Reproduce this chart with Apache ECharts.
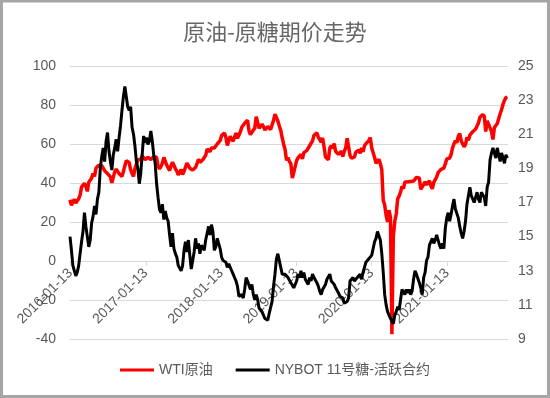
<!DOCTYPE html>
<html>
<head>
<meta charset="utf-8">
<script src="https://cdn.jsdelivr.net/npm/echarts@6/dist/echarts.min.js"></script>
<style>
  html, body { margin: 0; padding: 0; background: #fff; }
  #chart { width: 550px; height: 398px; }
</style>
</head>
<body>
<div id="chart"></div>
<script>
// weekly (Monday) readings, first week 2016-01-11
const startDate = Date.UTC(2016, 0, 11);

// WTI原油, left axis
const wti = [
  // 2016
  31.4, 28.5, 30.3,
  31.6, 29.7, 29.4, 31.9, 33.8,
  37.9, 37.2, 39.9, 38.3,
  35.7, 40.4, 39.8, 42.6,
  44.8, 43.4, 47.7, 48.1, 49.1,
  49.7, 48.9, 49.4, 46.3,
  46.6, 44.8, 45.2, 43.1,
  40.1, 43.0, 45.7, 47.1, 46.4,
  44.8, 44.9, 43.3, 45.9,
  48.8, 51.4, 50.5, 50.5, 46.9,
  44.9, 43.3, 47.5, 47.1,
  51.8, 52.8, 52.1, 53.9,
  // 2017
  53.7, 52.0, 52.4, 53.2, 52.6,
  52.0, 52.9, 53.4, 54.1,
  53.2, 48.4, 47.3, 48.4,
  50.2, 53.1, 52.6, 49.2,
  47.7, 46.4, 48.9, 50.7, 49.8,
  47.4, 46.1, 44.2, 43.4,
  46.9, 44.4, 46.0, 46.3, 50.2,
  49.4, 47.6, 47.4, 46.6,
  47.3, 48.1, 49.9, 52.2,
  50.6, 49.6, 51.9, 52.9, 54.2,
  57.4, 56.8, 56.1, 58.0,
  57.5, 58.0, 57.2, 60.0,
  // 2018
  60.4, 61.7, 64.3, 63.6, 65.6,
  63.4, 59.3, 61.7, 63.9,
  62.6, 61.4, 62.1, 65.6,
  63.0, 63.4, 66.2, 68.6, 68.6,
  70.7, 71.0, 72.2, 66.7,
  64.8, 66.1, 65.9, 68.1,
  74.0, 73.9, 68.1, 68.3, 70.1,
  69.0, 67.2, 66.4, 68.9,
  69.8, 67.5, 69.9, 72.1,
  75.3, 74.3, 71.8, 69.2, 67.0,
  63.1, 59.9, 57.2, 51.6,
  53.0, 51.0, 49.9, 42.5, 45.4,
  // 2019
  48.5, 51.5, 53.0, 52.0,
  54.6, 52.4, 55.6, 55.5,
  56.6, 56.8, 59.1, 59.9,
  61.6, 64.4, 63.4, 65.7, 63.5,
  62.3, 61.0, 63.1, 58.6,
  53.3, 53.3, 51.9, 58.0,
  59.1, 57.8, 60.2, 56.2, 56.9,
  54.7, 54.9, 56.3, 53.6,
  56.3, 57.9, 62.9, 58.6, 54.1,
  52.8, 53.6, 53.3, 55.8,
  56.5, 56.9, 55.2, 58.0,
  56.0, 59.0, 60.2, 60.5, 61.7,
  // 2020
  63.3, 58.1, 58.3, 53.1,
  50.1, 49.6, 52.1, 49.9,
  46.8, 31.1, 28.7, 23.4, 20.1,
  26.1, 22.4, -37.6, 12.8,
  20.4, 24.1, 31.8, 33.3,
  35.4, 38.2, 37.1, 40.5, 39.7,
  40.6, 40.1, 40.8, 41.6,
  41.0, 42.0, 42.9, 42.6, 42.6,
  36.8, 37.3, 39.3, 40.6,
  39.2, 39.4, 41.1, 38.6,
  37.0, 40.3, 41.3, 43.1, 45.3,
  45.8, 47.0, 47.7, 47.6,
  // 2021
  49.8, 52.3, 52.4, 52.8,
  54.6, 58.0, 60.1, 61.7,
  60.6, 64.0, 65.4, 61.6, 61.6,
  58.6, 59.7, 63.4, 61.9,
  64.5, 65.0, 66.3, 66.1, 67.7,
  69.2, 70.9, 73.7, 72.9,
  75.2, 74.1, 66.4, 71.9,
  71.3, 68.3, 66.5, 62.3, 68.5,
  69.3, 70.5, 70.3, 75.5,
  77.6, 80.5, 82.4, 83.8,
  84.1
];

// NYBOT 11号糖-活跃合约, right axis
const sugar = [
  // 2016
  15.0, 14.2, 13.3,
  13.0, 12.7, 12.9, 13.3, 14.0,
  14.7, 15.3, 16.4, 15.6,
  15.0, 14.4, 14.8, 15.8,
  16.2, 16.8, 16.3, 17.2, 17.6,
  19.0, 19.7, 20.2, 19.4,
  20.6, 21.1, 20.0, 19.4,
  18.9, 19.8, 20.2, 20.7, 20.0,
  20.8, 21.5, 22.4, 23.2,
  23.8, 23.2, 22.6, 22.4, 22.6,
  21.4, 21.0, 20.3, 19.4,
  19.0, 18.1, 18.7, 19.8,
  // 2017
  20.9, 20.5, 20.8, 20.4, 20.6,
  21.2, 20.6, 19.8, 19.3,
  18.1, 17.3, 16.6, 16.4,
  16.9, 16.0, 16.5, 16.1,
  15.9, 15.1, 14.4, 15.2, 14.3,
  14.0, 13.8, 13.3, 13.4,
  13.0, 13.3, 14.2, 14.7, 14.1,
  14.8, 13.9, 13.1, 13.6,
  14.1, 14.9, 14.3, 14.6,
  14.0, 14.5, 14.6, 14.2, 14.8,
  15.2, 15.6, 15.1, 15.7,
  15.3, 14.2, 14.4, 14.9,
  // 2018
  14.9, 14.3, 13.8, 13.6, 13.7,
  13.5, 13.2, 13.4, 13.3,
  13.0, 12.8, 12.9, 12.4,
  12.1, 11.5, 11.4, 11.6, 11.4,
  11.9, 12.6, 12.4, 12.3,
  11.9, 12.2, 11.6, 11.3,
  11.6, 11.3, 10.8, 10.9, 10.6,
  10.5, 10.2, 10.2, 10.1,
  10.5, 10.4, 11.2, 12.1,
  12.8, 13.7, 14.0, 13.6, 13.2,
  12.8, 12.9, 12.8, 12.9,
  12.6, 12.7, 12.3, 12.2, 12.0,
  // 2019
  12.1, 12.4, 12.8, 12.6,
  13.0, 12.6, 12.9, 12.5,
  12.4, 12.2, 12.6, 12.4,
  12.8, 12.6, 12.7, 12.3, 12.1,
  11.8, 11.6, 11.9, 11.8,
  12.2, 12.5, 12.4, 12.8,
  12.4, 12.5, 12.2, 12.0, 12.1,
  11.7, 11.5, 11.6, 11.4,
  11.1, 11.0, 11.2, 11.4, 12.4,
  12.5, 12.6, 12.4, 12.4,
  12.6, 12.5, 12.8, 12.5,
  12.9, 13.2, 13.5, 13.4, 13.7,
  // 2020
  13.6, 13.9, 14.3, 14.7,
  14.9, 15.3, 15.2, 14.8,
  14.0, 12.9, 11.6, 11.0, 10.6,
  10.4, 10.2, 10.1, 9.9,
  10.4, 10.6, 10.9, 10.7,
  11.3, 11.9, 11.8, 11.6, 11.9,
  11.7, 11.9, 11.6, 11.8,
  12.5, 13.0, 12.8, 12.9, 12.3,
  12.0, 11.6, 12.6, 12.9,
  13.6, 13.8, 14.5, 14.4,
  14.9, 14.6, 14.8, 15.1, 14.8,
  14.5, 14.3, 14.6, 14.3,
  // 2021
  15.5, 16.1, 16.4, 15.9,
  16.3, 16.8, 17.2, 16.6,
  16.5, 16.1, 15.6, 15.2, 14.9,
  15.3, 15.9, 16.9, 17.4,
  17.9, 17.4, 17.3, 17.0, 17.3,
  17.6, 17.2, 17.0, 17.6,
  17.5, 17.3, 16.8, 17.9,
  18.2, 19.5, 19.9, 20.2, 19.9,
  19.6, 20.2, 19.8, 19.4,
  19.9, 19.6, 19.3, 19.8,
  19.6
];

const tickDates = ['2016-01-13', '2017-01-13', '2018-01-13', '2019-01-13', '2020-01-13', '2021-01-13'];

const DAY = 24 * 3600 * 1000;

function toTime(s) {
  let p = s.split('-');
  return Date.UTC(+p[0], +p[1] - 1, +p[2]);
}

function pad(n) {
  return n < 10 ? '0' + n : '' + n;
}

function fmtDate(t) {
  let d = new Date(t);
  return d.getUTCFullYear() + '-' + pad(d.getUTCMonth() + 1) + '-' + pad(d.getUTCDate());
}

function weekly(values) {
  return values.map(function (v, i) {
    return [startDate + i * 7 * DAY, v];
  });
}

const tickTimes = tickDates.map(toTime);
const textColor = '#595959';
const gridColor = '#d9d9d9';
const fontFamily = '"Liberation Sans", "Noto Sans CJK SC", sans-serif';

let myChart = echarts.init(document.getElementById('chart'), null, { renderer: 'canvas' });

myChart.setOption({
  animation: false,
  backgroundColor: '#ffffff',
  textStyle: { fontFamily: fontFamily },
  title: {
    text: '原油-原糖期价走势',
    left: 'center',
    top: 16,
    textStyle: {
      fontFamily: '"Noto Sans CJK SC", sans-serif',
      fontSize: 22,
      fontWeight: 'normal',
      color: '#666666'
    }
  },
  graphic: [{
    type: 'rect',
    silent: true,
    shape: { x: 1.5, y: 1, width: 547, height: 395.5 },
    style: { fill: 'none', stroke: '#a6a6a6', lineWidth: 3 }
  }],
  legend: {
    bottom: 16,
    left: 'center',
    icon: 'rect',
    itemWidth: 34,
    itemHeight: 3,
    itemGap: 23,
    textStyle: { color: textColor, fontSize: 14, fontFamily: fontFamily },
    data: ['WTI原油', 'NYBOT 11号糖-活跃合约']
  },
  grid: {
    left: 70,
    right: 42,
    top: 66,
    bottom: 59,
    containLabel: false
  },
  xAxis: {
    type: 'value',
    min: startDate,
    max: toTime('2021-11-04'),
    // axis sits on the zero line of the left scale
    offset: -78,
    axisLine: { onZero: false, lineStyle: { color: gridColor, width: 1 } },
    axisTick: {
      show: true,
      customValues: tickTimes,
      length: 5,
      lineStyle: { color: gridColor }
    },
    axisLabel: {
      customValues: tickTimes,
      rotate: 45,
      color: textColor,
      fontSize: 14,
      margin: 10,
      formatter: function (val) {
        return fmtDate(val);
      }
    },
    splitLine: { show: false }
  },
  yAxis: [{
    type: 'value',
    min: -40,
    max: 100,
    interval: 20,
    axisLine: { show: false },
    axisTick: { show: false },
    axisLabel: { color: textColor, fontSize: 14, margin: 14 },
    splitLine: { lineStyle: { color: gridColor, width: 1 } }
  }, {
    type: 'value',
    min: 9,
    max: 25,
    interval: 2,
    axisLine: { show: false },
    axisTick: { show: false },
    axisLabel: { color: textColor, fontSize: 14, margin: 10 },
    splitLine: { show: false }
  }],
  series: [{
    name: 'WTI原油',
    type: 'line',
    yAxisIndex: 0,
    data: weekly(wti),
    showSymbol: false,
    color: '#ff0000',
    lineStyle: { color: '#ff0000', width: 3.5 }
  }, {
    name: 'NYBOT 11号糖-活跃合约',
    type: 'line',
    yAxisIndex: 1,
    data: weekly(sugar),
    showSymbol: false,
    color: '#000000',
    lineStyle: { color: '#000000', width: 3 }
  }]
});
</script>
</body>
</html>
